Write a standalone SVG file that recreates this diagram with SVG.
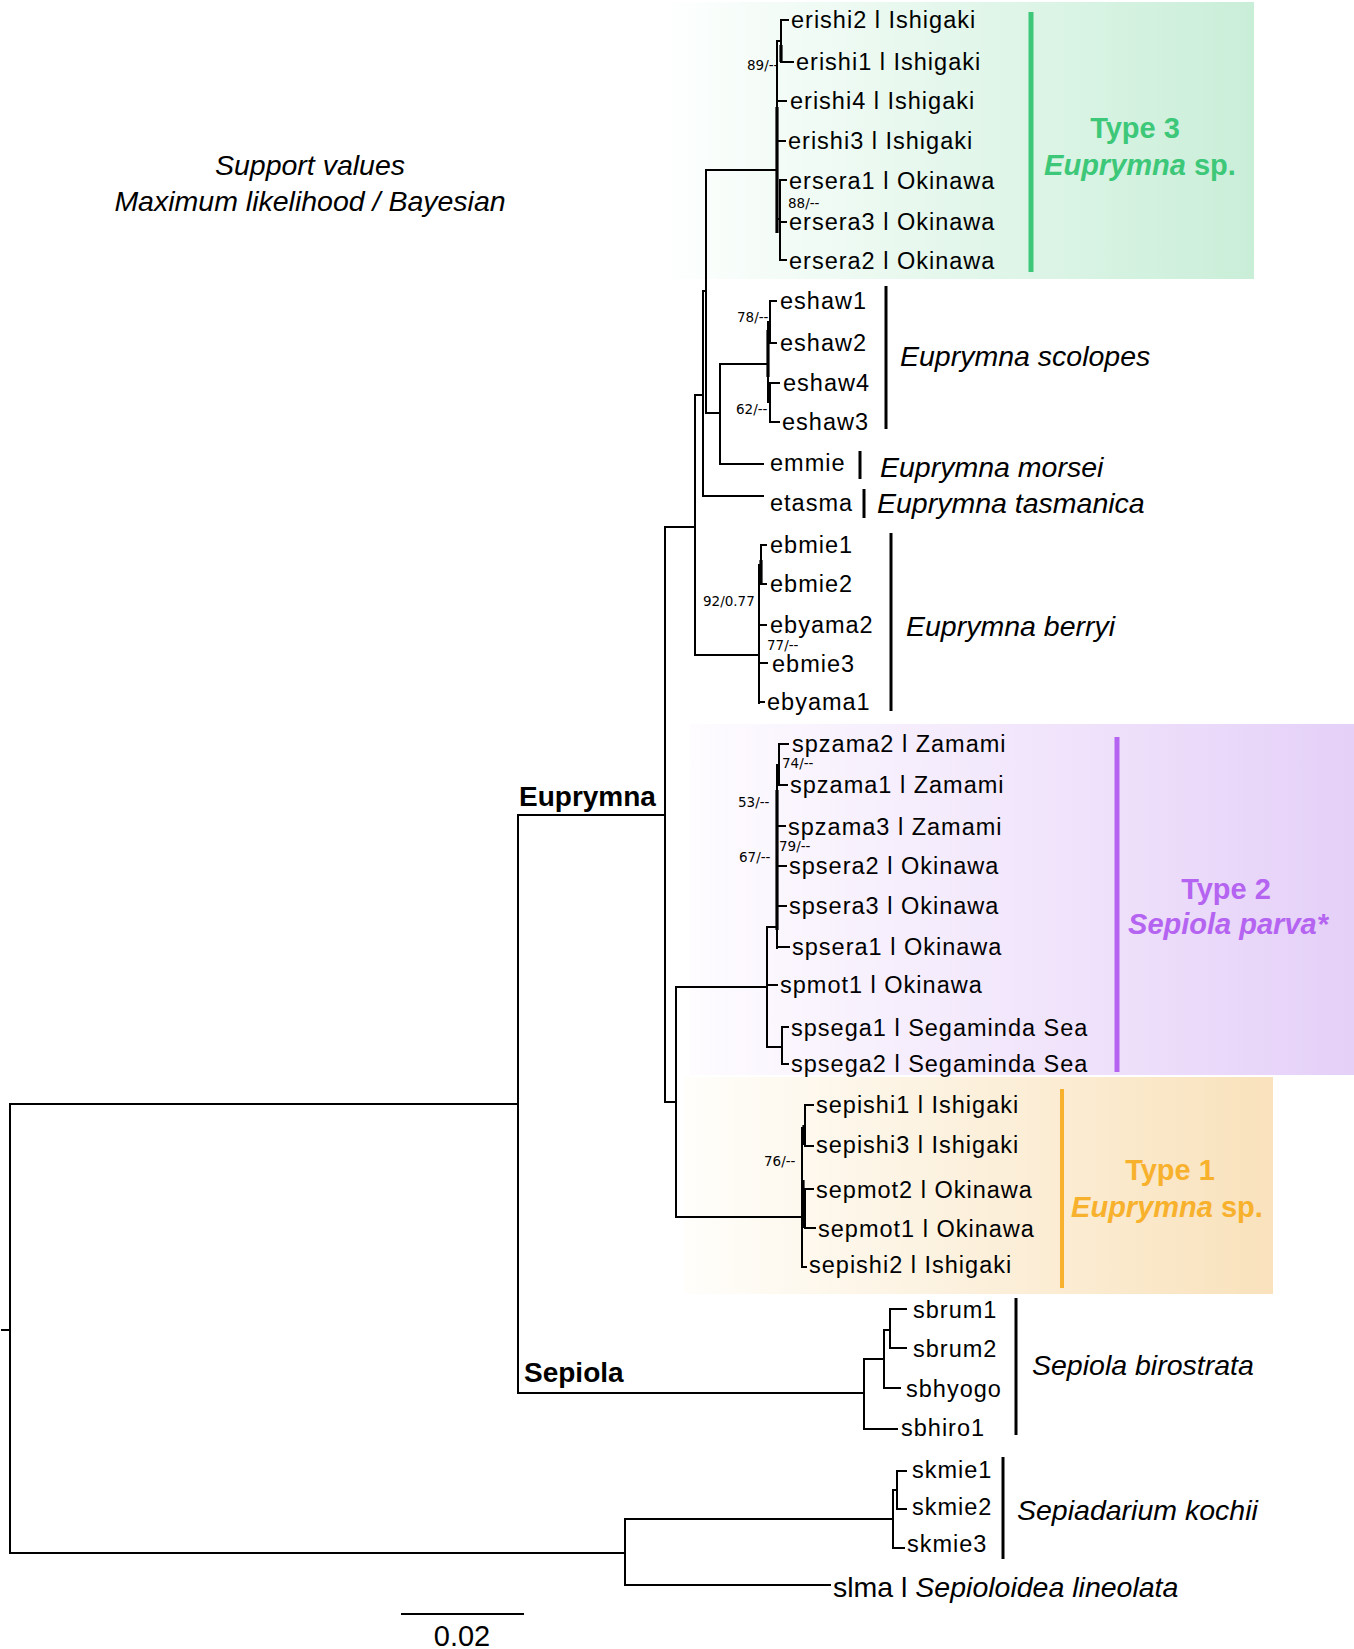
<svg xmlns="http://www.w3.org/2000/svg" width="1354" height="1649" viewBox="0 0 1354 1649">
<defs>
<linearGradient id="gGreen" x1="0" y1="0" x2="1" y2="0"><stop offset="0" stop-color="#fdfffe"/><stop offset="1" stop-color="#c9eed8"/></linearGradient>
<linearGradient id="gPurple" x1="0" y1="0" x2="1" y2="0"><stop offset="0" stop-color="#fefcff"/><stop offset="1" stop-color="#e5d0f8"/></linearGradient>
<linearGradient id="gOrange" x1="0" y1="0" x2="1" y2="0"><stop offset="0" stop-color="#fffefb"/><stop offset="1" stop-color="#f9e2bc"/></linearGradient>
<style>
text{font-family:"Liberation Sans",Arial,sans-serif;fill:#000}
.tip{font-size:23.5px;letter-spacing:1px}
.sp{font-size:28.5px;font-style:italic}
.big{font-size:28.5px}
.sv{font-family:"DejaVu Sans",sans-serif;font-size:13.5px}
.genus{font-size:28px;font-weight:bold}
.type{font-size:29px;font-weight:bold;text-anchor:middle}
.tree{fill:none;stroke:#000;stroke-width:2;stroke-linecap:square}
.thick{fill:none;stroke:#000;stroke-width:3.2}
.bar{stroke:#000;stroke-width:3}
</style>
</defs>
<g id="backgrounds">
<rect x="672" y="2" width="582" height="277" fill="url(#gGreen)"/>
<rect x="690" y="724" width="664" height="351" fill="url(#gPurple)"/>
<rect x="684" y="1077" width="589" height="217" fill="url(#gOrange)"/>
</g>
<g id="connectors">
<path class="tree" d="M2,1330H10 M10,1104V1553 M10,1104H518 M10,1553H625 M518,815V1393 M518,815H665 M518,1393H864
M864,1359V1429 M864,1359H884 M864,1429H897 M884,1330V1388 M884,1330H890 M884,1388H900 M890,1309V1348 M890,1309H906 M890,1348H906
M625,1519V1585 M625,1519H893 M625,1585H830 M893,1490V1548 M893,1490H897 M893,1548H904 M897,1471V1509 M897,1471H906 M897,1509H906
M665,527V1102 M665,527H695 M665,1102H676 M695,395V655 M695,395H703 M695,655H759 M703,291V496 M703,291H706 M703,496H763
M706,170V413 M706,170H777 M706,413H720 M720,364V464 M720,364H768 M720,464H763 M768,322V402 M768,322H770 M768,402H770
M770,301V343 M770,301H776 M770,343H776 M770,383V422 M770,383H779 M770,422H779
M777,41V222 M777,41H781 M781,20V62 M781,20H788 M781,62H793 M777,101H786 M777,141H785 M777,219H780 M780,180V260 M780,180H786 M780,222H786 M780,260H786
M759,565V703 M759,565H761 M761,545V584 M761,545H766 M761,584H766 M759,625H766 M759,663H767 M759,702H764
M676,987V1217 M676,987H767 M676,1217H802 M767,927V1047 M767,927H777 M767,985H777 M767,1047H782 M782,1027V1064 M782,1027H788 M782,1064H788
M777,765V948 M777,765H779 M779,744V785 M779,744H788 M779,785H787 M777,826H785 M777,866H786 M777,906H786 M777,947H789
M802,1128V1267 M802,1128H805 M805,1105V1146 M805,1105H813 M805,1146H813 M802,1208H805 M805,1189V1228 M805,1189H813 M805,1228H815 M802,1267H806"/>
<path class="thick" d="M777,107V233 M781,45V62 M777,790V930 M761,560V584 M768,330V377 M804,1125V1145 M803,1180V1228"/>
</g>
<g id="type3-clade">
<line x1="1031" y1="12" x2="1031" y2="272" stroke="#3cc878" stroke-width="5"/>
<text class="type" x="1135" y="138" style="fill:#3cc878">Type 3</text>
<text class="type" x="1140" y="175" style="fill:#3cc878"><tspan font-style="italic">Euprymna</tspan> sp.</text>
</g>
<g id="type2-clade">
<line x1="1117" y1="737" x2="1117" y2="1072" stroke="#b464f0" stroke-width="5"/>
<text class="type" x="1226" y="899" style="fill:#b464f0">Type 2</text>
<text class="type" x="1228" y="934" style="fill:#b464f0;font-style:italic">Sepiola parva*</text>
</g>
<g id="type1-clade">
<line x1="1062" y1="1089" x2="1062" y2="1288" stroke="#f8b12c" stroke-width="4"/>
<text class="type" x="1170" y="1180" style="fill:#f8b12c">Type 1</text>
<text class="type" x="1167" y="1217" style="fill:#f8b12c"><tspan font-style="italic">Euprymna</tspan> sp.</text>
</g>
<g id="tips-type3">
<text class="tip" x="791" y="28">erishi2 l Ishigaki</text>
<text class="tip" x="796" y="70">erishi1 l Ishigaki</text>
<text class="tip" x="790" y="109">erishi4 l Ishigaki</text>
<text class="tip" x="788" y="149">erishi3 l Ishigaki</text>
<text class="tip" x="789" y="189">ersera1 l Okinawa</text>
<text class="tip" x="789" y="230">ersera3 l Okinawa</text>
<text class="tip" x="789" y="269">ersera2 l Okinawa</text>
</g>
<g id="scolopes">
<text class="tip" x="780" y="309">eshaw1</text>
<text class="tip" x="780" y="351">eshaw2</text>
<text class="tip" x="783" y="391">eshaw4</text>
<text class="tip" x="782" y="430">eshaw3</text>
<line class="bar" x1="886" y1="286" x2="886" y2="429"/>
<text class="sp" x="900" y="366">Euprymna scolopes</text>
</g>
<g id="morsei">
<text class="tip" x="770" y="471">emmie</text>
<line class="bar" x1="860" y1="451" x2="860" y2="479"/>
<text class="sp" x="880" y="477">Euprymna morsei</text>
</g>
<g id="tasmanica">
<text class="tip" x="770" y="511">etasma</text>
<line class="bar" x1="864" y1="489" x2="864" y2="518"/>
<text class="sp" x="877" y="513">Euprymna tasmanica</text>
</g>
<g id="berryi">
<text class="tip" x="770" y="553">ebmie1</text>
<text class="tip" x="770" y="592">ebmie2</text>
<text class="tip" x="770" y="633">ebyama2</text>
<text class="tip" x="772" y="672">ebmie3</text>
<text class="tip" x="767" y="710">ebyama1</text>
<line class="bar" x1="891" y1="533" x2="891" y2="711"/>
<text class="sp" x="906" y="636">Euprymna berryi</text>
</g>
<g id="tips-type2">
<text class="tip" x="792" y="752">spzama2 l Zamami</text>
<text class="tip" x="790" y="793">spzama1 l Zamami</text>
<text class="tip" x="788" y="835">spzama3 l Zamami</text>
<text class="tip" x="789" y="874">spsera2 l Okinawa</text>
<text class="tip" x="789" y="914">spsera3 l Okinawa</text>
<text class="tip" x="792" y="955">spsera1 l Okinawa</text>
<text class="tip" x="780" y="993">spmot1 l Okinawa</text>
<text class="tip" x="791" y="1036">spsega1 l Segaminda Sea</text>
<text class="tip" x="791" y="1072">spsega2 l Segaminda Sea</text>
</g>
<g id="tips-type1">
<text class="tip" x="816" y="1113">sepishi1 l Ishigaki</text>
<text class="tip" x="816" y="1153">sepishi3 l Ishigaki</text>
<text class="tip" x="816" y="1198">sepmot2 l Okinawa</text>
<text class="tip" x="818" y="1237">sepmot1 l Okinawa</text>
<text class="tip" x="809" y="1273">sepishi2 l Ishigaki</text>
</g>
<g id="birostrata">
<text class="tip" x="913" y="1318">sbrum1</text>
<text class="tip" x="913" y="1357">sbrum2</text>
<text class="tip" x="906" y="1397">sbhyogo</text>
<text class="tip" x="901" y="1436">sbhiro1</text>
<line class="bar" x1="1016" y1="1298" x2="1016" y2="1435"/>
<text class="sp" x="1032" y="1375">Sepiola birostrata</text>
</g>
<g id="kochii">
<text class="tip" x="912" y="1478">skmie1</text>
<text class="tip" x="912" y="1515">skmie2</text>
<text class="tip" x="907" y="1552">skmie3</text>
<line class="bar" x1="1003" y1="1457" x2="1003" y2="1559"/>
<text class="sp" x="1017" y="1520">Sepiadarium kochii</text>
</g>
<g id="lineolata">
<text class="big" x="833" y="1597">slma l <tspan font-style="italic">Sepioloidea lineolata</tspan></text>
</g>
<g id="support-values">
<text class="sv" x="747" y="70">89/--</text>
<text class="sv" x="788" y="208">88/--</text>
<text class="sv" x="737" y="322">78/--</text>
<text class="sv" x="736" y="414">62/--</text>
<text class="sv" x="703" y="606">92/0.77</text>
<text class="sv" x="767" y="650">77/--</text>
<text class="sv" x="782" y="768">74/--</text>
<text class="sv" x="738" y="807">53/--</text>
<text class="sv" x="779" y="851">79/--</text>
<text class="sv" x="739" y="862">67/--</text>
<text class="sv" x="764" y="1166">76/--</text>
</g>
<g id="genus-labels">
<text class="genus" x="519" y="806">Euprymna</text>
<text class="genus" x="524" y="1382">Sepiola</text>
</g>
<g id="legend">
<text class="sp" x="310" y="175" text-anchor="middle">Support values</text>
<text class="sp" x="310" y="211" text-anchor="middle">Maximum likelihood / Bayesian</text>
</g>
<g id="scale-bar">
<line x1="401" y1="1614" x2="524" y2="1614" stroke="#000" stroke-width="2"/>
<text x="462" y="1646" text-anchor="middle" style="font-size:29px">0.02</text>
</g>
</svg>
